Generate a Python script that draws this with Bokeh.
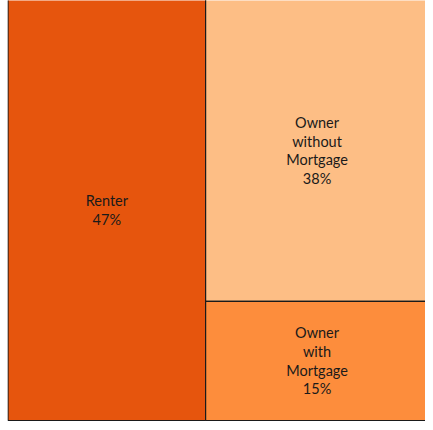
from bokeh.plotting import figure
from bokeh.models import Range1d, ColumnDataSource
from bokeh.core.properties import value
from bokeh.embed import file_html
from bokeh.resources import INLINE

# Data
categories = ["Renter", "Owner without Mortgage", "Owner with Mortgage"]
label_lines = ["Renter", "Owner\nwithout\nMortgage", "Owner\nwith\nMortgage"]
values = [47, 38, 15]
colors = ["#E6550D", "#FDBE85", "#FD8D3C"]

total = sum(values)
# Treemap layout: first item takes a full-height column, the rest stack in the remaining column
W = H = 100.0
x0s, x1s, y0s, y1s = [], [], [], []
first_w = W * values[0] / total
x0s.append(0.0); x1s.append(first_w); y0s.append(0.0); y1s.append(H)
rest = sum(values[1:])
top = H
for v in values[1:]:
    h = H * v / rest
    x0s.append(first_w); x1s.append(W); y0s.append(top - h); y1s.append(top)
    top -= h

texts = [f"{lab}\n{v}%" for lab, v in zip(label_lines, values)]
cx = [(a + b) / 2 for a, b in zip(x0s, x1s)]
cy = [(a + b) / 2 for a, b in zip(y0s, y1s)]

src = ColumnDataSource(dict(left=x0s, right=x1s, bottom=y0s, top=y1s,
                            color=colors, cx=cx, cy=cy, text=texts, cat=categories))

p = figure(width=425, height=422, output_backend="svg", toolbar_location=None,
           x_range=Range1d(-0.119, 99.29), y_range=Range1d(-0.24, 99.76),
           min_border_left=7, min_border_right=0, min_border_top=0, min_border_bottom=1)
p.axis.visible = False
p.grid.visible = False
p.outline_line_color = None
p.background_fill_color = "white"
p.border_fill_color = "white"

p.quad(left="left", right="right", bottom="bottom", top="top", source=src,
       fill_color="color", line_color="#1a1a1a", line_width=1.2)

p.text(x="cx", y="cy", text="text", source=src, text_align="center",
       text_baseline="middle", text_font=value("Lato"), text_font_size="14.5px",
       text_color="#1a1a1a", text_line_height=1.1)

open("out.html", "w").write(file_html(p, INLINE))
